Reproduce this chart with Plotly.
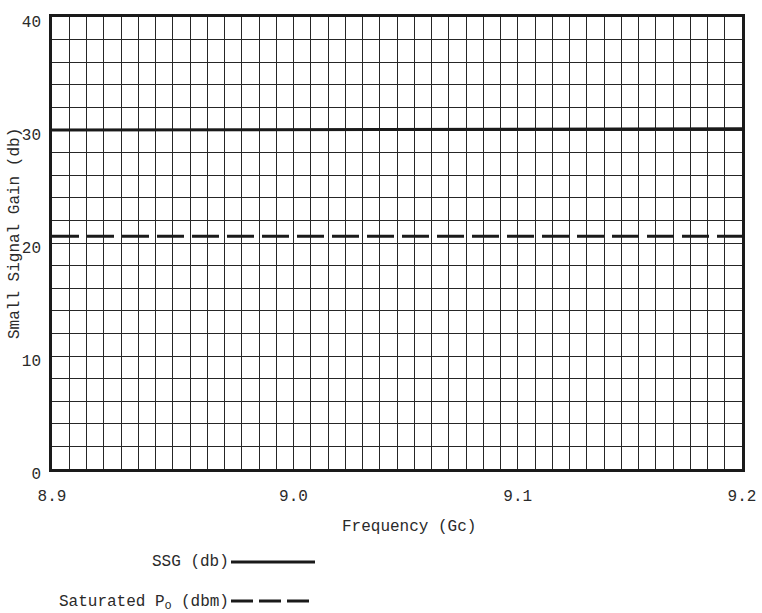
import plotly.graph_objects as go

# ---- data ----
freq = [8.9, 9.2]                 # Gc
ssg_db = [30.0, 30.1]             # SSG (db)
sat_po_dbm = [20.6, 20.6]         # Saturated Po (dbm)

x_tick_labels = ["8.9", "9.0", "9.1", "9.2"]
x_tick_cells = [0, 14, 27, 40]    # graph-paper column where each label is printed
y_tick_vals = [0, 10, 20, 30, 40]

x_min, x_max = 8.9, 9.2
n_cols = 40
cell = (x_max - x_min) / n_cols

FONT = "Liberation Mono"
INK = "#2a2a2a"
GRID = "#262626"

fig = go.Figure()
fig.add_trace(go.Scatter(x=freq, y=ssg_db, mode="lines", name="SSG (db)",
                         line=dict(color="#1a1a1a", width=3)))
fig.add_trace(go.Scatter(x=freq, y=sat_po_dbm, mode="lines", name="Saturated Po (dbm)",
                         line=dict(color="#1a1a1a", width=3, dash="27px,8px")))

L, R, T, B = 52, 20, 17, 144
W, H = 762, 613
pw, ph = W - L - R, H - T - B

def px_x(px):
    return (px - L) / pw

def px_y(py):
    return (H - B - py) / ph

fig.update_layout(
    width=W, height=H,
    margin=dict(l=L, r=R, t=T, b=B, autoexpand=False),
    paper_bgcolor="white", plot_bgcolor="white",
    showlegend=False,
    font=dict(family=FONT, size=16, color=INK),
    xaxis=dict(
        range=[x_min, x_max], automargin=False,
        tickmode="array",
        tickvals=[x_min + c * cell for c in x_tick_cells],
        ticktext=x_tick_labels,
        ticks="", ticklabelstandoff=10,
        showgrid=True, gridcolor=GRID, gridwidth=1.3,
        minor=dict(tick0=x_min, dtick=cell, showgrid=True, gridcolor=GRID, gridwidth=1.3),
        showline=True, mirror=True, linecolor="#1a1a1a", linewidth=2.5,
        zeroline=False, fixedrange=True,
    ),
    yaxis=dict(
        range=[0, 40], automargin=False,
        tickmode="array", tickvals=y_tick_vals,
        ticks="", ticklabelstandoff=5, ticklabelshift=4,
        showgrid=True, gridcolor=GRID, gridwidth=1.3,
        minor=dict(tick0=0, dtick=2, showgrid=True, gridcolor=GRID, gridwidth=1.3),
        showline=True, mirror=True, linecolor="#1a1a1a", linewidth=2.5,
        zeroline=False, fixedrange=True,
    ),
)

# axis titles
fig.add_annotation(text="Frequency (Gc)", xref="paper", yref="paper",
                   x=px_x(409), y=px_y(527), showarrow=False,
                   xanchor="center", yanchor="middle", font=dict(size=16))
fig.add_annotation(text="Small Signal Gain (db)", xref="paper", yref="paper",
                   x=px_x(15), y=px_y(234), showarrow=False, textangle=-90,
                   xanchor="center", yanchor="middle", font=dict(size=16))

# legend (text on the left, sample line on the right)
legend_rows = [("SSG (db)", 562, 562, "solid"),
               ("Saturated P<sub>O</sub> (dbm)", 602, 601, "22px,6px")]
for label, py_text, py_line, dash in legend_rows:
    fig.add_annotation(text=label, xref="paper", yref="paper",
                       x=px_x(231), y=px_y(py_text), showarrow=False,
                       xanchor="right", yanchor="middle", font=dict(size=16))
    fig.add_shape(type="line", xref="paper", yref="paper",
                  x0=px_x(231), x1=px_x(315), y0=px_y(py_line), y1=px_y(py_line),
                  line=dict(color="#1a1a1a", width=3, dash=dash))

fig.write_html(
    "out.html",
    config={"displayModeBar": False},
    post_script="document.body.style.margin='0';document.body.style.overflow='hidden';",
)
